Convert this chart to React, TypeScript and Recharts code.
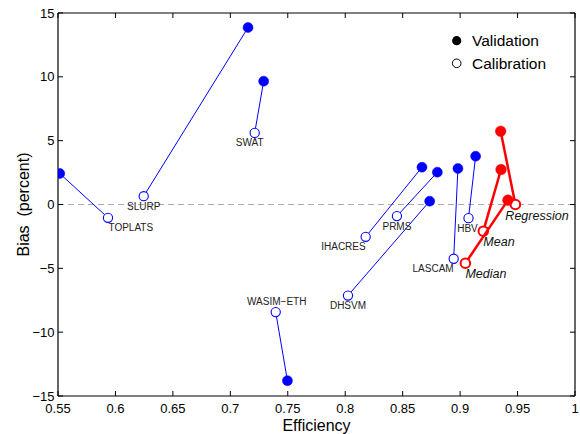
import React from 'react';
import { ScatterChart, Scatter, XAxis, YAxis, ReferenceLine } from 'recharts';

const FONT = '"Liberation Sans", Arial, Helvetica, sans-serif';

// Individual models (blue)
const models = ['TOPLATS', 'SLURP', 'SWAT', 'WASIM\u2212ETH', 'DHSVM', 'IHACRES', 'PRMS', 'LASCAM', 'HBV'];
const modelValEff = [0.5515, 0.7154, 0.729, 0.7497, 0.8735, 0.8668, 0.8802, 0.8981, 0.9135];
const modelValBias = [2.43, 13.86, 9.66, -13.8, 0.26, 2.92, 2.53, 2.82, 3.78];
const modelCalEff = [0.5935, 0.6246, 0.7212, 0.7395, 0.8024, 0.8178, 0.845, 0.8944, 0.9073];
const modelCalBias = [-1.04, 0.65, 5.61, -8.43, -7.13, -2.53, -0.91, -4.25, -1.07];

// Combinations (red)
const combos = ['Regression', 'Mean', 'Median'];
const comboValEff = [0.9353, 0.9356, 0.9416];
const comboValBias = [5.74, 2.74, 0.34];
const comboCalEff = [0.9481, 0.9202, 0.9046];
const comboCalBias = [0.0, -2.09, -4.6];

const xTicks = [0.55, 0.6, 0.65, 0.7, 0.75, 0.8, 0.85, 0.9, 0.95, 1];
const yTicks = [-15, -10, -5, 0, 5, 10, 15];
const X_MIN = 0.55, X_MAX = 1, Y_MIN = -15, Y_MAX = 15;

const legendLabels = ['Validation', 'Calibration'];

// chart layout (style)
const W = 580, H = 434;
const M = { top: 13, right: 5, bottom: 0, left: 0 };
const Y_AXIS_W = 58, X_AXIS_H = 38;
const PLOT = {
  left: M.left + Y_AXIS_W,
  right: W - M.right,
  top: M.top,
  bottom: H - M.bottom - X_AXIS_H,
};

// label placement relative to calibration point (style only)
const labelPlace: Record<string, { dx: number; dy: number; anchor: string }> = {
  'TOPLATS': { dx: 0.5, dy: 10, anchor: 'start' },
  'SLURP': { dx: 0, dy: 10, anchor: 'middle' },
  'SWAT': { dx: -5, dy: 10, anchor: 'middle' },
  'WASIM\u2212ETH': { dx: 1, dy: -11, anchor: 'middle' },
  'DHSVM': { dx: 0, dy: 10, anchor: 'middle' },
  'IHACRES': { dx: 0, dy: 10, anchor: 'end' },
  'PRMS': { dx: 0, dy: 10.5, anchor: 'middle' },
  'LASCAM': { dx: 0, dy: 10, anchor: 'end' },
  'HBV': { dx: -1, dy: 10.5, anchor: 'middle' },
  'Regression': { dx: -10, dy: 11, anchor: 'start' },
  'Mean': { dx: 0, dy: 11, anchor: 'start' },
  'Median': { dx: 0, dy: 11, anchor: 'start' },
};

type Pt = { x: number; y: number; kind: 'val' | 'cal'; name: string };

const pair = (name: string, ve: number, vb: number, ce: number, cb: number): Pt[] => [
  { x: ve, y: vb, kind: 'val', name },
  { x: ce, y: cb, kind: 'cal', name },
];

const modelData = models.map((n, i) => pair(n, modelValEff[i], modelValBias[i], modelCalEff[i], modelCalBias[i]));
const comboData = combos.map((n, i) => pair(n, comboValEff[i], comboValBias[i], comboCalEff[i], comboCalBias[i]));

const makeShape = (color: string, combo: boolean) => (props: any) => {
  const { cx, cy, payload } = props;
  if (cx == null || cy == null) return <g />;
  if (payload.kind === 'val') {
    return <circle cx={cx} cy={cy} r={combo ? 5.3 : 5} fill={color} stroke={color} strokeWidth={0.5} />;
  }
  const lp = labelPlace[payload.name];
  return (
    <g>
      <circle cx={cx} cy={cy} r={combo ? 4.8 : 4.6} fill="#fff" stroke={color} strokeWidth={combo ? 2 : 1.1} />
      <text
        x={cx + lp.dx}
        y={cy + lp.dy}
        textAnchor={lp.anchor as any}
        dominantBaseline="central"
        fontFamily={FONT}
        fontSize={combo ? 12.5 : 10}
        fontStyle={combo ? 'italic' : 'normal'}
        fill={combo ? '#111' : '#222'}
      >
        {payload.name}
      </text>
    </g>
  );
};

const fmtY = (v: number) => (v < 0 ? '\u2212' + Math.abs(v) : String(v));
const fmtX = (v: number) => String(v);

// Frame (top & right edges with inward ticks), aligned with the chart's plot box
const Frame = () => {
  const sx = (v: number) => PLOT.left + ((v - X_MIN) / (X_MAX - X_MIN)) * (PLOT.right - PLOT.left);
  const sy = (v: number) => PLOT.bottom - ((v - Y_MIN) / (Y_MAX - Y_MIN)) * (PLOT.bottom - PLOT.top);
  return (
    <svg width={W} height={H} style={{ position: 'absolute', left: 0, top: 0, pointerEvents: 'none' }}>
      <line x1={PLOT.left} y1={PLOT.top} x2={PLOT.right} y2={PLOT.top} stroke="#000" strokeWidth={1.2} />
      <line x1={PLOT.right} y1={PLOT.top} x2={PLOT.right} y2={PLOT.bottom} stroke="#000" strokeWidth={1.2} />
      {xTicks.map((t) => (
        <line key={'tx' + t} x1={sx(t)} y1={PLOT.top} x2={sx(t)} y2={PLOT.top + 5} stroke="#000" strokeWidth={1} />
      ))}
      {yTicks.map((t) => (
        <line key={'ty' + t} x1={PLOT.right - 5} y1={sy(t)} x2={PLOT.right} y2={sy(t)} stroke="#000" strokeWidth={1} />
      ))}
    </svg>
  );
};

const LegendBox = () => (
  <svg width={130} height={50} style={{ position: 'absolute', left: 445, top: 28, overflow: 'visible' }}>
    <circle cx={11.7} cy={12.7} r={4.6} fill="#000" />
    <text x={27} y={12.7} dominantBaseline="central" fontFamily={FONT} fontSize={15.5} fill="#000">{legendLabels[0]}</text>
    <circle cx={11.7} cy={35.3} r={4.3} fill="#fff" stroke="#000" strokeWidth={1} />
    <text x={27} y={35.3} dominantBaseline="central" fontFamily={FONT} fontSize={15.5} fill="#000">{legendLabels[1]}</text>
  </svg>
);

export default function App() {
  const tickStyle = { fontSize: 13, fill: '#000', fontFamily: FONT };
  return (
    <div style={{ position: 'absolute', left: 0, top: 0, width: W, height: H, background: '#fff' }}>
      <ScatterChart width={W} height={H} margin={M}>
        <XAxis
          type="number"
          dataKey="x"
          domain={[X_MIN, X_MAX]}
          ticks={xTicks}
          allowDataOverflow
          height={X_AXIS_H}
          tickSize={-5}
          tickMargin={13}
          tickFormatter={fmtX}
          tick={tickStyle}
          stroke="#000"
          axisLine={{ stroke: '#000', strokeWidth: 1.2 }}
          tickLine={{ stroke: '#000' }}
          interval={0}
          label={{ value: 'Efficiency', position: 'insideBottom', offset: 3, fill: '#000', fontSize: 16, fontFamily: FONT }}
        />
        <YAxis
          type="number"
          dataKey="y"
          domain={[Y_MIN, Y_MAX]}
          ticks={yTicks}
          allowDataOverflow
          width={Y_AXIS_W}
          tickSize={-5}
          tickMargin={8.5}
          tickFormatter={fmtY}
          tick={tickStyle}
          stroke="#000"
          axisLine={{ stroke: '#000', strokeWidth: 1.2 }}
          tickLine={{ stroke: '#000' }}
          interval={0}
          label={{
            value: 'Bias\u00a0\u00a0(percent)',
            angle: -90,
            position: 'insideLeft',
            offset: 23,
            fill: '#000',
            fontSize: 16,
            fontFamily: FONT,
            style: { textAnchor: 'middle' },
          }}
        />
        <ReferenceLine y={0} stroke="#aaa" strokeDasharray="6 4" strokeWidth={1} />
        {modelData.map((d, i) => (
          <Scatter
            key={'m' + i}
            data={d}
            line={{ stroke: '#0000ff', strokeWidth: 1 }}
            shape={makeShape('#0000ff', false)}
            isAnimationActive={false}
          />
        ))}
        {comboData.map((d, i) => (
          <Scatter
            key={'c' + i}
            data={d}
            line={{ stroke: '#ff0000', strokeWidth: 2.5 }}
            shape={makeShape('#ff0000', true)}
            isAnimationActive={false}
          />
        ))}
      </ScatterChart>
      <Frame />
      <LegendBox />
    </div>
  );
}
